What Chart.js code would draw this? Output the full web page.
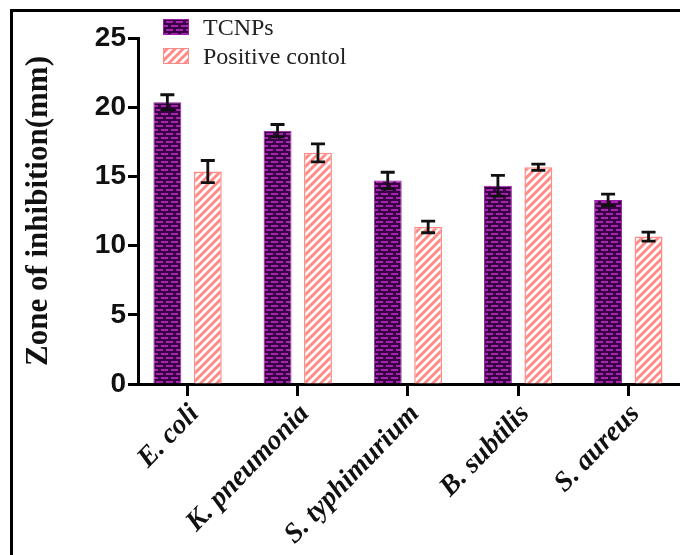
<!DOCTYPE html>
<html>
<head>
<meta charset="utf-8">
<script src="https://cdn.jsdelivr.net/npm/chart.js@4.4.0/dist/chart.umd.min.js"></script>
<style>
  html, body { margin: 0; padding: 0; background: #fff; }
  #wrap { position: relative; width: 680px; height: 555px; overflow: hidden; }
  #frame { position: absolute; left: 10px; top: 9px; right: 0; bottom: 0;
           border-top: 3px solid #000; border-left: 3px solid #000; }
  #grafico { position: absolute; left: 0; top: 0; }
</style>
</head>
<body>
<div id="wrap">
  <div id="frame"></div>
  <canvas id="grafico" width="680" height="555"></canvas>
</div>
<script>
// Dados do gráfico
const categorias = ["E. coli", "K. pneumonia", "S. typhimurium", "B. subtilis", "S. aureus"];
const serieNomes = ["TCNPs", "Positive contol"];
const tcnps = [20.35, 18.3, 14.7, 14.33, 13.3];
const tcnpsErro = [0.55, 0.45, 0.6, 0.75, 0.42];
const controle = [15.35, 16.7, 11.35, 15.66, 10.65];
const controleErro = [0.8, 0.65, 0.42, 0.23, 0.32];
const yTicks = [0, 5, 10, 15, 20, 25];
const yTitulo = "Zone of inhibition(mm)";

// Padrão de tijolos (TCNPs)
function padraoTijolo() {
  const c = document.createElement("canvas");
  c.width = 10; c.height = 8;
  const g = c.getContext("2d");
  g.fillStyle = "#3a0046";
  g.fillRect(0, 0, 10, 8);
  g.fillStyle = "#a624ae";
  g.fillRect(1, 1, 7, 2);
  g.fillRect(6, 5, 7, 2);
  g.fillRect(-4, 5, 7, 2);
  return g.createPattern(c, "repeat");
}

// Padrão listrado (controle positivo)
function padraoListra() {
  const c = document.createElement("canvas");
  c.width = 8; c.height = 8;
  const g = c.getContext("2d");
  g.fillStyle = "#ffffff";
  g.fillRect(0, 0, 8, 8);
  g.strokeStyle = "#ff8a86";
  g.lineWidth = 3;
  g.beginPath();
  g.moveTo(-2, 10); g.lineTo(10, -2);
  g.moveTo(-6, 6); g.lineTo(6, -6);
  g.moveTo(2, 14); g.lineTo(14, 2);
  g.stroke();
  return g.createPattern(c, "repeat");
}

const corTijolo = padraoTijolo();
const corListra = padraoListra();

// Barras de erro
const barrasErro = {
  id: "barrasErro",
  afterDatasetsDraw(chart) {
    const ctx = chart.ctx;
    const y = chart.scales.y;
    const erros = [tcnpsErro, controleErro];
    ctx.save();
    ctx.strokeStyle = "#111";
    ctx.lineWidth = 2.8;
    chart.data.datasets.forEach((ds, di) => {
      const meta = chart.getDatasetMeta(di);
      meta.data.forEach((bar, i) => {
        const v = ds.data[i].y;
        const e = erros[di][i];
        const yt = y.getPixelForValue(v + e);
        const yb = y.getPixelForValue(v - e);
        ctx.beginPath();
        ctx.moveTo(bar.x, yt); ctx.lineTo(bar.x, yb);
        ctx.moveTo(bar.x - 7, yt); ctx.lineTo(bar.x + 7, yt);
        ctx.moveTo(bar.x - 7, yb); ctx.lineTo(bar.x + 7, yb);
        ctx.stroke();
      });
    });
    ctx.restore();
  }
};

// Legenda
const legenda = {
  id: "legenda",
  afterDraw(chart) {
    const ctx = chart.ctx;
    const cores = [corTijolo, corListra];
    const bordas = ["#a01aa8", "#ff8a86"];
    ctx.save();
    ctx.font = "24px 'Liberation Serif', 'Times New Roman', serif";
    ctx.textBaseline = "alphabetic";
    serieNomes.forEach((nome, i) => {
      const top = 19 + i * 29;
      ctx.fillStyle = cores[i];
      ctx.fillRect(163, top, 26, 16);
      ctx.strokeStyle = bordas[i];
      ctx.lineWidth = 1;
      ctx.strokeRect(163.5, top + 0.5, 25, 15);
      ctx.fillStyle = "#222";
      ctx.fillText(nome, 203, top + 16);
    });
    ctx.restore();
  }
};

const ctx = document.getElementById("grafico").getContext("2d");

new Chart(ctx, {
  type: "bar",
  data: {
    datasets: [{
      label: serieNomes[0],
      data: tcnps.map((v, i) => ({ x: i, y: v })),
      backgroundColor: corTijolo,
      borderColor: "#a01aa8",
      borderWidth: 1
    }, {
      label: serieNomes[1],
      data: controle.map((v, i) => ({ x: i, y: v })),
      backgroundColor: corListra,
      borderColor: "#ff8a86",
      borderWidth: 1.5
    }]
  },
  options: {
    responsive: false,
    animation: false,
    categoryPercentage: 0.734,
    barPercentage: 0.69,
    layout: { padding: { top: 38, right: 1, left: 0, bottom: 0 } },
    plugins: {
      legend: { display: false },
      tooltip: { enabled: false }
    },
    scales: {
      x: {
        type: "linear",
        offset: false,
        min: -0.45,
        max: 4.46,
        afterBuildTicks(scale) {
          scale.ticks = categorias.map((_, i) => ({ value: i }));
        },
        afterFit(scale) { scale.height = 171; },
        grid: {
          offset: false,
          drawOnChartArea: false,
          tickLength: 12,
          tickWidth: 3,
          tickColor: "#000"
        },
        border: { color: "#000", width: 3 },
        ticks: {
          autoSkip: false,
          maxRotation: 46,
          minRotation: 46,
          padding: 2,
          labelOffset: 7,
          color: "#111",
          font: { family: "'Liberation Serif', 'Times New Roman', serif", size: 28, weight: "bold", style: "italic" },
          callback: function (value) { return categorias[value]; }
        }
      },
      y: {
        min: 0,
        max: 25,
        afterBuildTicks(scale) {
          scale.ticks = yTicks.map(v => ({ value: v }));
        },
        afterFit(scale) { scale.width = 138; },
        grid: {
          drawOnChartArea: false,
          tickLength: 10,
          tickWidth: 3,
          tickColor: "#000"
        },
        border: { color: "#000", width: 3 },
        title: {
          display: true,
          text: yTitulo,
          color: "#111",
          padding: { top: 20, bottom: 0 },
          font: { family: "'Liberation Serif', 'Times New Roman', serif", size: 31, weight: "bold" }
        },
        ticks: {
          padding: 2,
          color: "#111",
          font: { family: "'Liberation Sans', Arial, sans-serif", size: 28, weight: "bold" }
        }
      }
    }
  },
  plugins: [barrasErro, legenda]
});
</script>
</body>
</html>
